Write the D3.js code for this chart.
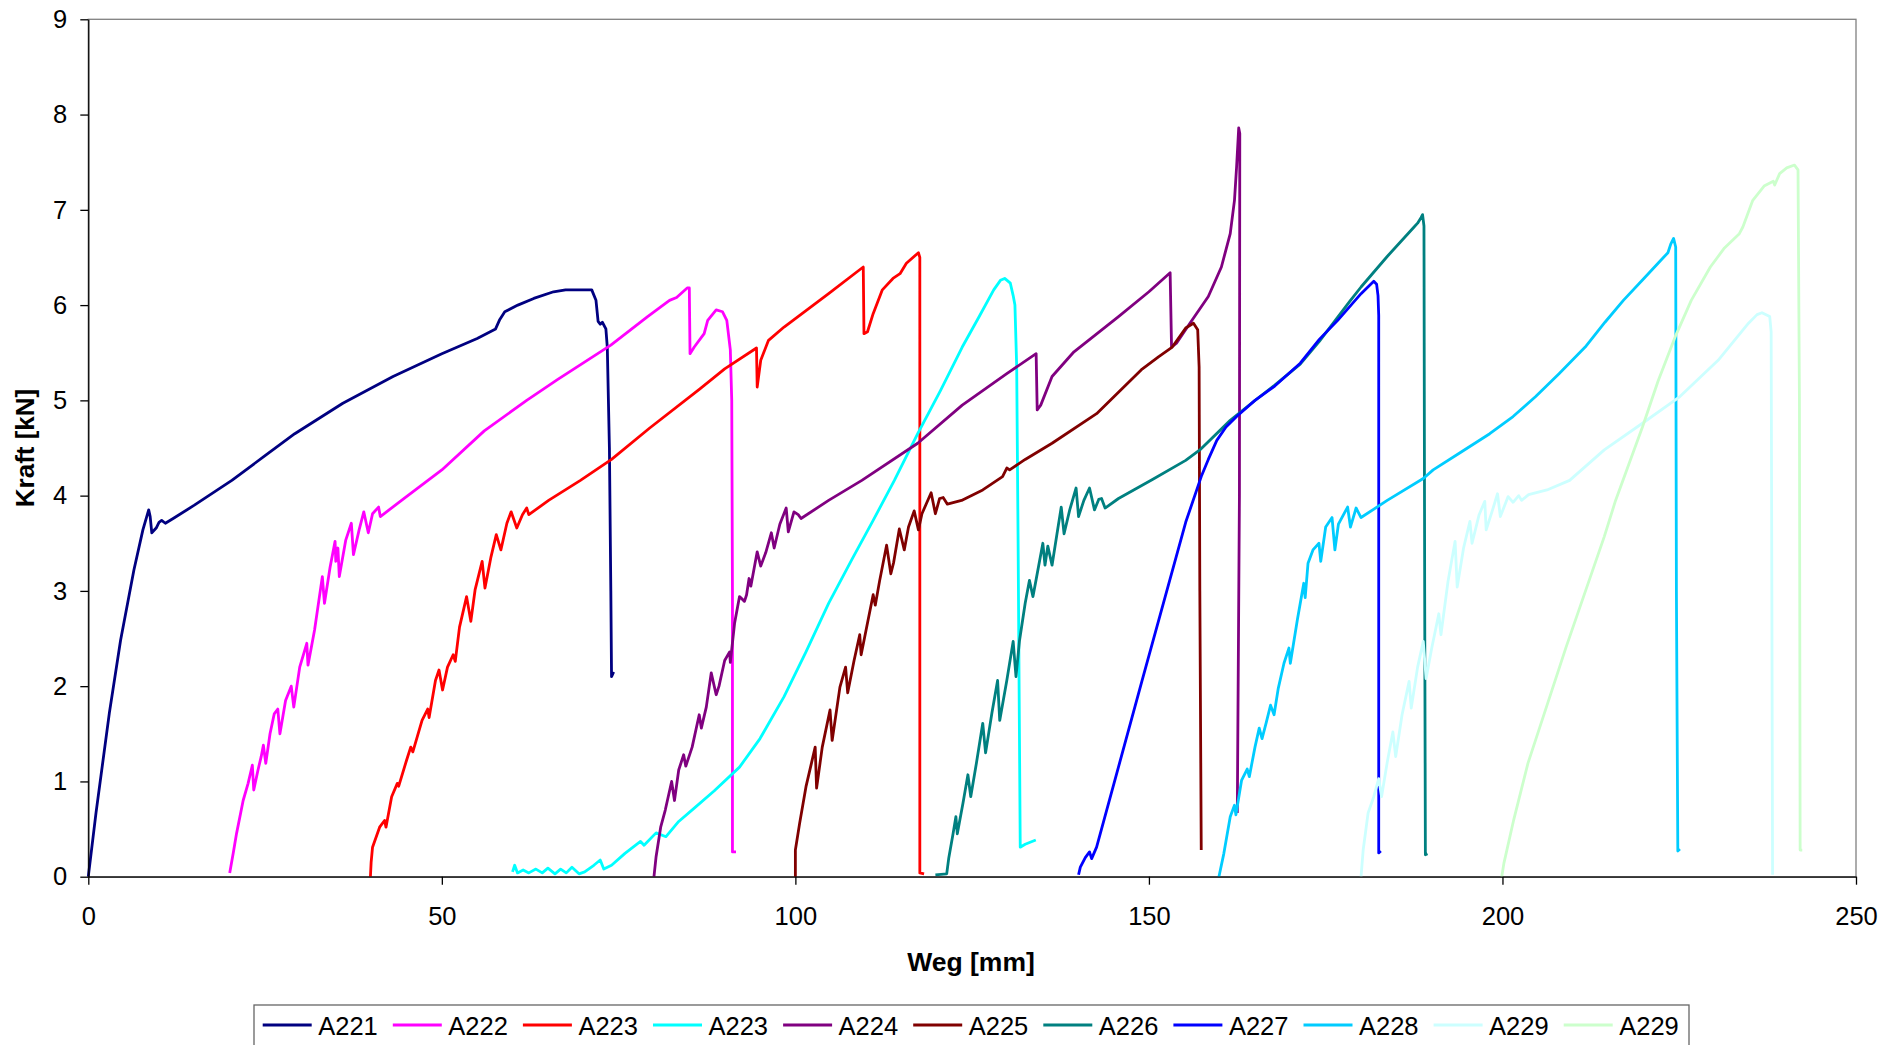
<!DOCTYPE html>
<html lang="de">
<head>
  <meta charset="UTF-8">
  <title>Kraft-Weg-Diagramm A221 - A229</title>
  <style>
    body {
      margin: 0;
      padding: 0;
      background: #ffffff;
      font-family: 'Liberation Sans', Arial, sans-serif;
    }
    svg { display: block; }
    .axis text { font-size: 25.5px; font-family: 'Liberation Sans', Arial, sans-serif; fill: #000; }
    .axis path, .axis line { stroke: #000; stroke-width: 1.3px; }
    .title { font-size: 26px; font-weight: bold; fill: #000; }
    .legend text { font-size: 25.5px; fill: #000; }
  </style>
</head>
<body>
<svg width="1896" height="1045"></svg>

<script src="https://d3js.org/d3.v7.min.js"></script>
<script>
  // tick values
  const xTicks = [0, 50, 100, 150, 200, 250];
  const yTicks = [0, 1, 2, 3, 4, 5, 6, 7, 8, 9];

  // legend names and colours (in drawing order)
  const seriesNames = ["A221", "A222", "A223", "A223", "A224", "A225", "A226", "A227", "A228", "A229", "A229"];
  const seriesColors = ["#000080", "#FF00FF", "#FF0000", "#00FFFF", "#800080", "#800000",
                        "#008080", "#0000FF", "#00CCFF", "#CCFFFF", "#CCFFCC"];

  // [Weg mm, Kraft kN]
  const a221 = [[0,0],[1.09,0.67],[2.98,1.72],[4.56,2.48],[6.45,3.22],[7.72,3.64],[8.54,3.85],[8.75,3.78],[8.98,3.61],
    [9.6,3.66],[10.0,3.72],[10.37,3.74],[10.9,3.71],[12,3.76],[15,3.9],[20.3,4.16],[25,4.42],[29.2,4.65],[36,4.97],
    [43.1,5.25],[50,5.49],[55,5.65],[57.6,5.75],[58.2,5.85],[58.9,5.93],[60.75,6.0],[63,6.07],[65.8,6.14],[67.5,6.16],
    [71.2,6.16],[71.8,6.05],[72.1,5.83],[72.4,5.8],[72.7,5.82],[73.2,5.75],[73.4,5.56],[73.7,4.5],[73.9,3.0],[74.0,2.1],[74.3,2.15]];

  const a222 = [[20.0,0.04],[20.5,0.25],[20.97,0.455],[21.9,0.8],[22.6,0.98],[23.2,1.17],[23.4,0.91],[24.0,1.12],
    [24.45,1.26],[24.76,1.38],[25.1,1.19],[25.7,1.5],[26.3,1.71],[26.8,1.76],[27.1,1.5],[27.9,1.85],[28.7,2.0],
    [29.06,1.78],[29.9,2.2],[30.9,2.45],[31.07,2.22],[32.0,2.59],[33.1,3.15],[33.4,2.87],[34.2,3.25],[34.9,3.52],
    [35.0,3.31],[35.3,3.45],[35.5,3.15],[36.4,3.53],[37.2,3.71],[37.5,3.38],[38.3,3.64],[38.96,3.83],[39.6,3.61],
    [40.2,3.81],[41.05,3.88],[41.3,3.78],[44.3,3.95],[50,4.27],[56,4.68],[62,5.0],[66.4,5.22],[73.9,5.58],[79.1,5.88],
    [82.2,6.05],[83.2,6.08],[84.7,6.18],[85.0,6.18],[85.1,5.49],[85.7,5.56],[87.1,5.7],[87.6,5.84],[88.8,5.95],
    [89.7,5.93],[90.3,5.84],[90.8,5.53],[91.0,5.0],[91.1,3.0],[91.1,0.26],[91.6,0.26]];

  const a223 = [[39.9,0],[40.0,0.15],[40.2,0.31],[41.2,0.52],[41.9,0.59],[42.1,0.52],[42.9,0.84],[43.7,0.98],
    [43.9,0.95],[45.0,1.22],[45.6,1.36],[45.9,1.31],[47.2,1.64],[48.0,1.76],[48.2,1.67],[49.1,2.06],[49.6,2.17],
    [50.1,1.96],[50.8,2.2],[51.6,2.33],[51.9,2.26],[52.5,2.62],[53.5,2.94],[54.1,2.68],[54.7,3.01],[55.7,3.31],
    [56.1,3.03],[56.96,3.36],[57.7,3.59],[58.35,3.43],[59.2,3.71],[59.8,3.83],[60.6,3.66],[61.4,3.80],[62.0,3.87],
    [62.3,3.80],[65.1,3.95],[69.6,4.16],[74,4.38],[79.4,4.71],[86.5,5.12],[90,5.33],[94.5,5.55],[94.6,5.14],
    [95.1,5.42],[96.2,5.63],[98.4,5.77],[104.7,6.12],[109.6,6.40],[109.7,5.70],[110.2,5.72],[111.0,5.91],
    [112.3,6.16],[113.8,6.28],[114.8,6.33],[115.7,6.44],[117.4,6.55],[117.6,6.5],[117.6,0.04],[118.2,0.03]];

  const a223b = [[60.0,0.05],[60.3,0.12],[60.7,0.04],[61.5,0.07],[62.3,0.04],[63.3,0.08],[64.2,0.04],[65.0,0.09],
    [66.0,0.03],[66.8,0.08],[67.6,0.04],[68.4,0.1],[69.4,0.03],[70.2,0.05],[71.5,0.12],[72.4,0.175],[72.9,0.08],
    [74.0,0.12],[75.9,0.245],[78.1,0.37],[78.6,0.33],[80.3,0.46],[81.7,0.42],[83.5,0.58],[85.7,0.72],[88.5,0.9],
    [92.1,1.15],[95,1.45],[98.4,1.89],[101.5,2.36],[104.7,2.87],[108,3.33],[111.0,3.74],[114.0,4.16],[117.3,4.65],
    [120.5,5.1],[123.6,5.56],[126,5.88],[128.05,6.16],[129.0,6.26],[129.6,6.28],[130.4,6.23],[130.8,6.1],
    [131.05,6.0],[131.3,5.35],[131.5,3.5],[131.8,0.31],[132.5,0.34],[134.0,0.385]];

  const a224 = [[80.0,0],[80.3,0.21],[80.95,0.52],[81.6,0.7],[82.5,1.0],[82.9,0.8],[83.5,1.12],[84.2,1.28],
    [84.5,1.16],[85.4,1.36],[86.4,1.70],[86.7,1.56],[87.4,1.78],[88.1,2.14],[88.8,1.91],[89.2,2.0],[90.0,2.27],
    [90.7,2.36],[90.8,2.25],[91.4,2.66],[92.1,2.94],[92.8,2.89],[93.1,2.96],[93.45,3.13],[93.7,3.05],[94.6,3.41],
    [95.1,3.26],[95.8,3.4],[96.6,3.61],[97.0,3.45],[97.8,3.7],[98.7,3.87],[99.0,3.62],[99.8,3.83],[100.4,3.8],
    [100.8,3.76],[104.7,3.95],[109.4,4.16],[117.3,4.55],[123.6,4.95],[129.9,5.28],[134.05,5.49],[134.2,4.90],
    [134.7,4.95],[136.3,5.25],[139.4,5.51],[145.7,5.88],[150,6.14],[153.0,6.34],[153.2,5.56],[153.9,5.6],
    [155.8,5.81],[158.4,6.09],[160.25,6.40],[161.5,6.75],[162.1,7.10],[162.4,7.45],[162.7,7.86],[162.85,7.8],
    [162.8,4],[162.5,0.67]];

  const a225 = [[100.0,0],[100.0,0.28],[100.6,0.56],[101.5,0.945],[102.3,1.2],[102.8,1.36],[103.0,0.93],
    [103.8,1.36],[104.9,1.75],[105.2,1.43],[106.3,1.99],[107.1,2.20],[107.4,1.93],[108.3,2.27],[109.1,2.54],
    [109.3,2.33],[110.0,2.59],[111.0,2.96],[111.3,2.85],[111.9,3.1],[112.9,3.48],[113.5,3.18],[113.9,3.3],
    [114.7,3.65],[115.4,3.43],[116.0,3.67],[116.8,3.84],[117.4,3.64],[117.9,3.81],[119.2,4.03],[119.8,3.81],
    [120.4,3.97],[120.9,3.98],[121.5,3.91],[123.5,3.95],[126.5,4.06],[129.3,4.2],[129.9,4.29],[130.3,4.27],
    [132.5,4.38],[136.3,4.55],[142.6,4.86],[148.9,5.32],[151.4,5.46],[153.3,5.56],[155.2,5.76],[156.3,5.81],
    [156.9,5.74],[157.1,5.35],[157.2,3.0],[157.4,0.28]];

  const a226 = [[119.8,0.02],[121.4,0.03],[121.7,0.2],[122.3,0.45],[122.7,0.63],[122.9,0.45],[123.7,0.77],
    [124.4,1.07],[124.8,0.84],[125.6,1.19],[126.5,1.61],[126.9,1.30],[127.8,1.72],[128.6,2.06],[128.9,1.64],
    [129.9,2.06],[130.8,2.47],[131.2,2.10],[131.7,2.48],[132.5,2.87],[133.1,3.11],[133.6,2.94],[134.0,3.1],
    [135.0,3.50],[135.3,3.27],[135.7,3.47],[136.3,3.27],[137.0,3.6],[137.6,3.88],[138.0,3.60],[138.8,3.85],
    [139.7,4.08],[140.05,3.78],[140.8,3.95],[141.6,4.08],[142.3,3.85],[142.9,3.96],[143.3,3.97],[143.8,3.87],
    [145.7,3.97],[150.5,4.17],[155.2,4.37],[157.2,4.48],[161.5,4.79],[164.5,4.97],[167.8,5.16],[171.4,5.38],
    [174.1,5.62],[178.4,6.04],[180.0,6.19],[183.7,6.51],[187.5,6.82],[188.0,6.86],[188.5,6.92],[188.7,6.95],
    [188.9,6.83],[189.0,3.0],[189.1,0.23],[189.4,0.24]];

  const a227 = [[140.05,0.02],[140.3,0.1],[141.0,0.2],[141.6,0.26],[141.9,0.19],[142.6,0.31],[149,2.05],
    [155.2,3.72],[157.4,4.2],[158.4,4.38],[159.6,4.58],[160.9,4.72],[162.4,4.83],[165,5.0],[167.8,5.15],
    [171.4,5.39],[174.1,5.64],[176.7,5.84],[180.0,6.12],[181.8,6.25],[182.2,6.22],[182.4,6.1],[182.5,5.89],
    [182.5,0.25],[182.8,0.27]];

  const a228 = [[159.9,0],[160.6,0.245],[161.5,0.63],[162.1,0.75],[162.3,0.65],[163.1,1.01],[163.9,1.13],
    [164.2,1.05],[165.0,1.36],[165.6,1.56],[166.0,1.45],[166.6,1.62],[167.2,1.80],[167.7,1.70],[168.3,1.98],
    [169.1,2.24],[169.8,2.40],[170.0,2.24],[171.0,2.7],[171.9,3.08],[172.1,2.93],[172.5,3.29],[173.2,3.43],
    [174.05,3.50],[174.3,3.31],[175.0,3.67],[175.9,3.77],[176.3,3.43],[176.8,3.70],[178.1,3.88],[178.5,3.67],
    [179.3,3.87],[180.0,3.77],[183.7,3.95],[188.8,4.18],[190.2,4.27],[194,4.45],[198.2,4.65],[201.5,4.83],
    [204.7,5.04],[208,5.28],[211.7,5.56],[214.5,5.82],[217.1,6.05],[220,6.28],[222.4,6.47],[223.4,6.55],
    [223.8,6.64],[224.2,6.70],[224.5,6.61],[224.6,3.0],[224.8,0.27],[225.1,0.29]];

  const a229 = [[180.0,0],[180.3,0.28],[181.0,0.67],[181.8,0.84],[182.5,1.03],[182.9,0.84],[183.7,1.2],
    [184.5,1.52],[184.9,1.26],[185.8,1.7],[186.8,2.05],[187.1,1.77],[188.0,2.2],[188.8,2.47],[189.2,2.08],
    [190.0,2.4],[191.0,2.76],[191.3,2.54],[192.3,3.1],[193.3,3.52],[193.6,3.04],[194.5,3.45],[195.4,3.73],
    [195.7,3.50],[196.7,3.8],[197.5,3.94],[197.7,3.64],[198.6,3.85],[199.3,4.02],[199.7,3.78],[200.8,3.99],
    [201.5,3.93],[202.3,4.0],[202.7,3.95],[203.7,4.01],[206.3,4.06],[209.5,4.16],[214.4,4.48],[219.8,4.76],
    [225.1,5.04],[230.5,5.42],[234.8,5.81],[236.0,5.9],[236.7,5.92],[237.8,5.88],[238.0,5.72],[238.1,3.0],[238.2,0.02]];

  const a229b = [[199.9,0],[200.2,0.14],[201.6,0.6],[203.6,1.19],[209.0,2.41],[214.4,3.57],[216.0,3.95],
    [219.8,4.72],[222,5.2],[224.5,5.68],[226.7,6.05],[229.4,6.4],[231.4,6.6],[233.5,6.75],[234.0,6.82],
    [235.4,7.10],[237,7.25],[238.3,7.30],[238.5,7.26],[239.2,7.38],[240.2,7.44],[241.3,7.47],[241.8,7.42],
    [242.0,5.0],[242.1,0.28],[242.4,0.28]];

  const seriesData = [a221, a222, a223, a223b, a224, a225, a226, a227, a228, a229, a229b];

  const svg = d3.select("svg");
  const plot = { left: 88.3, right: 1856, top: 19.3, bottom: 876.7 };

  const x = d3.scaleLinear().domain([0, 250]).range([plot.left, plot.right]);
  const y = d3.scaleLinear().domain([0, 9]).range([plot.bottom, plot.top]);

  // grey frame (top / right)
  svg.append("rect")
    .attr("x", plot.left).attr("y", plot.top)
    .attr("width", plot.right - plot.left).attr("height", plot.bottom - plot.top)
    .attr("fill", "none").attr("stroke", "#808080").attr("stroke-width", 1.3);

  // curves
  const line = d3.line().x(d => x(d[0])).y(d => y(d[1]));
  svg.append("g").selectAll("path")
    .data(seriesData)
    .enter()
    .append("path")
    .attr("d", line)
    .attr("fill", "none")
    .attr("stroke", (d, i) => seriesColors[i])
    .attr("stroke-width", 2.8)
    .attr("stroke-linejoin", "round");

  // axes
  svg.append("g")
    .attr("class", "axis")
    .attr("transform", `translate(0,${plot.bottom})`)
    .call(d3.axisBottom(x).tickValues(xTicks).tickSize(8).tickSizeOuter(0).tickPadding(22));

  svg.append("g")
    .attr("class", "axis")
    .attr("transform", `translate(${plot.left},0)`)
    .call(d3.axisLeft(y).tickValues(yTicks).tickSize(8).tickSizeOuter(0).tickPadding(13));

  // axis titles
  svg.append("text")
    .attr("class", "title")
    .attr("transform", `translate(34,448) rotate(-90)`)
    .attr("text-anchor", "middle")
    .text("Kraft [kN]");

  svg.append("text")
    .attr("class", "title")
    .attr("x", 971).attr("y", 971)
    .attr("text-anchor", "middle")
    .style("font-size", "26.5px")
    .text("Weg [mm]");

  // legend
  const legend = svg.append("g").attr("class", "legend");
  legend.append("rect")
    .attr("x", 254).attr("y", 1005)
    .attr("width", 1435).attr("height", 60)
    .attr("fill", "#fff").attr("stroke", "#666").attr("stroke-width", 1.3);

  const item = legend.selectAll("g.item")
    .data(seriesNames)
    .enter()
    .append("g")
    .attr("class", "item")
    .attr("transform", (d, i) => `translate(${262.7 + i * 130.1},1025)`);

  item.append("line")
    .attr("x1", 0).attr("x2", 49)
    .attr("stroke", (d, i) => seriesColors[i])
    .attr("stroke-width", 2.8);

  item.append("text")
    .attr("x", 55.5).attr("y", 9.5)
    .text(d => d);
</script>
</body>
</html>
